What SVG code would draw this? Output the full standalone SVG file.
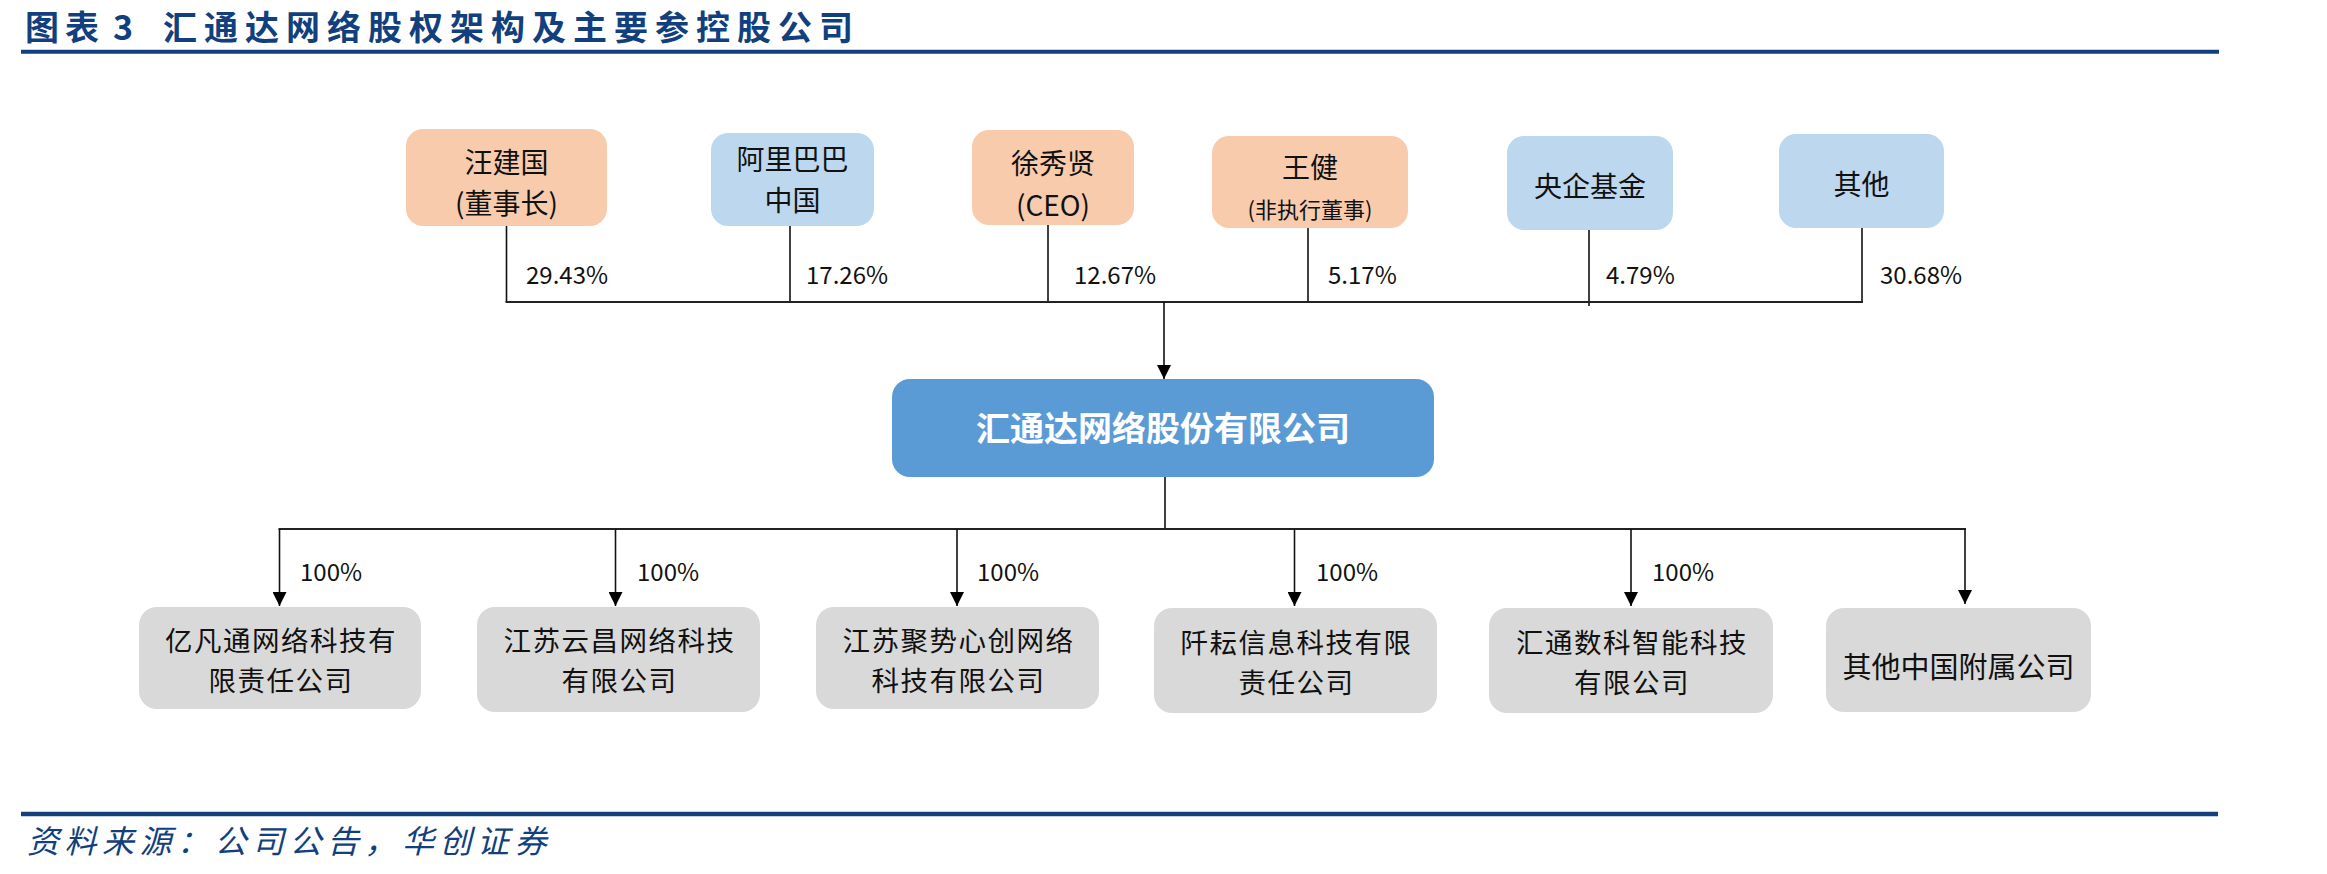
<svg xmlns="http://www.w3.org/2000/svg" width="2327" height="874" viewBox="0 0 2327 874">
<defs>
<marker id="arr" viewBox="0 0 14 14" refX="14" refY="7" markerWidth="14" markerHeight="14" markerUnits="userSpaceOnUse" orient="auto">
<path d="M0,0 L14,7 L0,14 z" fill="#000"/>
</marker>
<style>
.t{font-family:"Noto Sans CJK SC","Noto Sans",sans-serif;fill:#111;text-anchor:middle}
.f28{font-size:28px}
.f29{font-size:29px}
.fb{font-size:27.5px;letter-spacing:1.5px}
.f22{font-size:22px}
.pct{font-family:"Noto Sans CJK SC","Noto Sans",sans-serif;font-size:24px;fill:#111}
.org{fill:#f8cbad}
.blu{fill:#bdd7ee}
.gry{fill:#d9d9d9}
.ln{stroke:#111;stroke-width:1.6;fill:none}
.hl{stroke:#222;stroke-width:2.2;fill:none}
.ar{stroke:#111;stroke-width:1.6;fill:none;marker-end:url(#arr)}
</style>
</defs>
<rect width="2327" height="874" fill="#fff"/>

<g id="header">
<text font-family="'Noto Sans CJK SC',sans-serif" font-weight="700" font-size="34" fill="#123f7d" y="40"><tspan x="25" letter-spacing="6">图表</tspan><tspan x="113">3</tspan><tspan x="163" letter-spacing="7">汇通达网络股权架构及主要参控股公司</tspan></text>
<line x1="21" y1="51.8" x2="2219" y2="51.8" stroke="#123f7d" stroke-width="4"/>
</g>

<g id="connectors">
<line class="ln" x1="506.5" y1="226" x2="506.5" y2="302"/>
<line class="ln" x1="790" y1="226" x2="790" y2="302"/>
<line class="ln" x1="1048" y1="225" x2="1048" y2="302"/>
<line class="ln" x1="1308" y1="228" x2="1308" y2="302"/>
<line class="ln" x1="1589" y1="230" x2="1589" y2="306"/>
<line class="ln" x1="1862" y1="228" x2="1862" y2="302"/>
<line class="hl" x1="505.5" y1="302" x2="1863" y2="302"/>
<line class="ar" x1="1164" y1="302" x2="1164" y2="379"/>
<line class="ln" x1="1165" y1="477" x2="1165" y2="529"/>
<line class="hl" x1="278.5" y1="529" x2="1966" y2="529"/>
<line class="ar" x1="279.5" y1="529" x2="279.5" y2="606"/>
<line class="ar" x1="615.5" y1="529" x2="615.5" y2="606"/>
<line class="ar" x1="957" y1="529" x2="957" y2="606"/>
<line class="ar" x1="1294.5" y1="529" x2="1294.5" y2="606"/>
<line class="ar" x1="1631" y1="529" x2="1631" y2="606"/>
<line class="ar" x1="1965" y1="529" x2="1965" y2="604"/>
<text class="pct" x="526" y="284">29.43%</text>
<text class="pct" x="806" y="284">17.26%</text>
<text class="pct" x="1074" y="284">12.67%</text>
<text class="pct" x="1328" y="284">5.17%</text>
<text class="pct" x="1606" y="284">4.79%</text>
<text class="pct" x="1880" y="284">30.68%</text>
<text class="pct" x="300" y="581">100%</text>
<text class="pct" x="637" y="581">100%</text>
<text class="pct" x="977" y="581">100%</text>
<text class="pct" x="1316" y="581">100%</text>
<text class="pct" x="1652" y="581">100%</text>
</g>

<g id="n-wangjianguo">
<rect class="org" x="406" y="129" width="201" height="97" rx="17"/>
<text class="t f28"><tspan x="506.5" y="172.5">汪建国</tspan><tspan x="506.5" y="213.5">(董事长)</tspan></text>
</g>
<g id="n-alibaba">
<rect class="blu" x="711" y="133" width="163" height="93" rx="17"/>
<text class="t f28"><tspan x="792.5" y="170">阿里巴巴</tspan><tspan x="792.5" y="211">中国</tspan></text>
</g>
<g id="n-xuxiuxian">
<rect class="org" x="972" y="130" width="162" height="95" rx="17"/>
<text class="t f28"><tspan x="1053" y="173.5">徐秀贤</tspan><tspan x="1053" y="215.5">(CEO)</tspan></text>
</g>
<g id="n-wangjian">
<rect class="org" x="1212" y="136" width="196" height="92" rx="17"/>
<text class="t"><tspan class="f28" x="1310" y="177.5">王健</tspan><tspan class="f22" x="1310" y="217.5">(非执行董事)</tspan></text>
</g>
<g id="n-yangqi">
<rect class="blu" x="1507" y="136" width="166" height="94" rx="17"/>
<text class="t f28" x="1590" y="196.5">央企基金</text>
</g>
<g id="n-others-top">
<rect class="blu" x="1779" y="134" width="165" height="94" rx="17"/>
<text class="t f28" x="1861.5" y="194.5">其他</text>
</g>

<g id="n-main">
<rect x="892" y="379" width="542" height="98" rx="18" fill="#5b9bd5"/>
<text class="t" x="1163" y="441" font-size="34" font-weight="700" style="fill:#fff">汇通达网络股份有限公司</text>
</g>

<g id="n-yifantong">
<rect class="gry" x="139" y="607" width="282" height="102" rx="18"/>
<text class="t fb"><tspan x="281" y="651">亿凡通网络科技有</tspan><tspan x="281" y="691">限责任公司</tspan></text>
</g>
<g id="n-yunchang">
<rect class="gry" x="477" y="607" width="283" height="105" rx="18"/>
<text class="t fb"><tspan x="619.5" y="651">江苏云昌网络科技</tspan><tspan x="619.5" y="691">有限公司</tspan></text>
</g>
<g id="n-jushi">
<rect class="gry" x="816" y="607" width="283" height="102" rx="18"/>
<text class="t fb"><tspan x="958.5" y="651">江苏聚势心创网络</tspan><tspan x="958.5" y="691">科技有限公司</tspan></text>
</g>
<g id="n-qianyun">
<rect class="gry" x="1154" y="608" width="283" height="105" rx="18"/>
<text class="t fb"><tspan x="1296.5" y="653">阡耘信息科技有限</tspan><tspan x="1296.5" y="693">责任公司</tspan></text>
</g>
<g id="n-huitongshuke">
<rect class="gry" x="1489" y="608" width="284" height="105" rx="18"/>
<text class="t fb"><tspan x="1632" y="653">汇通数科智能科技</tspan><tspan x="1632" y="693">有限公司</tspan></text>
</g>
<g id="n-others-bottom">
<rect class="gry" x="1826" y="608" width="265" height="104" rx="18"/>
<text class="t f29" x="1958.5" y="678">其他中国附属公司</text>
</g>

<g id="footer">
<line x1="21" y1="814" x2="2218" y2="814" stroke="#123f7d" stroke-width="4.5"/>
<text x="27" y="853" font-family="'Noto Sans CJK SC',sans-serif" font-size="32" font-style="italic" letter-spacing="5.5" fill="#123f7d">资料来源：公司公告，华创证券</text>
</g>
</svg>
